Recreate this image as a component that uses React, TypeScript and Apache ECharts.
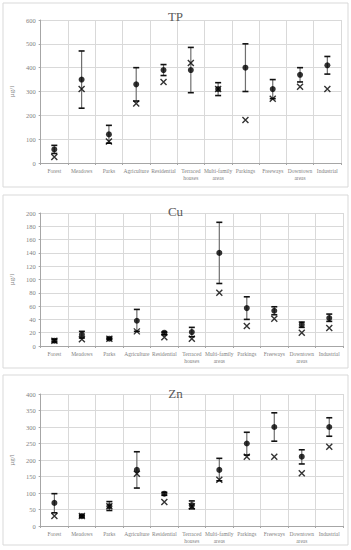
import React, { useEffect, useRef } from "react";
import * as echarts from "echarts";

const categories = [
  "Forest", "Meadows", "Parks", "Agriculture", "Residential", "Terraced\nhouses",
  "Multi-family\nareas", "Parkings", "Freeways", "Downtown\nareas", "Industrial",
];

// TP
const tpMean = [57, 350, 120, 330, 390, 390, 310, 400, 310, 370, 410];
const tpLow = [40, 230, 83, 260, 367, 295, 283, 300, 270, 340, 373];
const tpHigh = [74, 470, 158, 400, 413, 485, 337, 500, 350, 400, 447];
const tpMedian = [25, 310, 90, 250, 340, 420, 310, 180, 270, 320, 310];

// Cu
const cuMean = [8, 17, 11, 38, 20, 21, 140, 57, 53, 32, 42];
const cuLow = [6, 12, 10, 22, 17, 14, 94, 40, 47, 28, 37];
const cuHigh = [10, 22, 12, 55, 21, 28, 186, 74, 59, 36, 48];
const cuMedian = [8, 10, 11, 22, 13, 11, 80, 30, 41, 20, 27];

// Zn
const znMean = [70, 30, 60, 170, 98, 63, 170, 250, 300, 210, 300];
const znLow = [40, 27, 47, 115, 93, 52, 137, 215, 257, 188, 272];
const znHigh = [98, 33, 74, 225, 102, 76, 205, 284, 343, 231, 328];
const znMedian = [30, 30, 60, 158, 73, 60, 140, 210, 210, 160, 240];

const titles = ["TP", "Cu", "Zn"];
const yMax = [600, 200, 400];
const yInterval = [100, 20, 50];

const FONT = "'Liberation Serif', 'DejaVu Serif', serif";

export default function App() {
  const ref = useRef<HTMLDivElement>(null);
  useEffect(() => {
    if (!ref.current) return;
    const chart = echarts.init(ref.current, undefined, { renderer: "svg" });

    const panels = [
      { border: [3, 3, 345, 184], grid: { left: 32, top: 20, width: 309, height: 143 }, titleTop: 5 },
      { border: [3, 195, 345, 173], grid: { left: 32, top: 213, width: 311, height: 133 }, titleTop: 200 },
      { border: [3, 375, 345, 170], grid: { left: 32, top: 394, width: 311, height: 132 }, titleTop: 382 },
    ];
    const means = [tpMean, cuMean, znMean];
    const lows = [tpLow, cuLow, znLow];
    const highs = [tpHigh, cuHigh, znHigh];
    const medians = [tpMedian, cuMedian, znMedian];

    const series: any[] = [];
    panels.forEach((_, k) => {
      series.push({
        type: "custom",
        xAxisIndex: k,
        yAxisIndex: k,
        z: 2,
        encode: { x: 0, y: [1, 2] },
        data: categories.map((_, i) => [i, lows[k][i], highs[k][i]]),
        renderItem: (params: any, api: any) => {
          const x = api.value(0);
          const pLo = api.coord([x, api.value(1)]);
          const pHi = api.coord([x, api.value(2)]);
          const hw = 3;
          return {
            type: "group",
            children: [
              { type: "line", shape: { x1: pLo[0], y1: pLo[1], x2: pHi[0], y2: pHi[1] }, style: { stroke: "#6f6f6f", lineWidth: 1.2 } },
              { type: "line", shape: { x1: pHi[0] - hw, y1: pHi[1], x2: pHi[0] + hw, y2: pHi[1] }, style: { stroke: "#111", lineWidth: 1.6 } },
              { type: "line", shape: { x1: pLo[0] - hw, y1: pLo[1], x2: pLo[0] + hw, y2: pLo[1] }, style: { stroke: "#111", lineWidth: 1.6 } },
            ],
          };
        },
      });
      series.push({
        type: "scatter",
        xAxisIndex: k,
        yAxisIndex: k,
        z: 3,
        symbol: "circle",
        symbolSize: 6,
        itemStyle: { color: "#000" },
        data: means[k],
      });
      series.push({
        type: "scatter",
        xAxisIndex: k,
        yAxisIndex: k,
        z: 4,
        symbol: "path://M0,0L10,10M10,0L0,10",
        symbolSize: 6,
        itemStyle: { color: "none", borderColor: "#000", borderWidth: 1.4 },
        data: medians[k],
      });
    });

    chart.setOption({
      animation: false,
      textStyle: { fontFamily: FONT },
      title: panels.map((p, k) => ({
        text: titles[k],
        left: "center",
        top: p.titleTop,
        textStyle: { fontFamily: FONT, fontSize: 13, fontWeight: "normal", color: "#595959" },
      })),
      graphic: panels.map((p) => ({
        type: "rect",
        shape: { x: p.border[0], y: p.border[1], width: p.border[2], height: p.border[3] },
        style: { fill: "none", stroke: "#d9d9d9", lineWidth: 1 },
        z: -1,
      })),
      grid: panels.map((p) => ({ ...p.grid, containLabel: false })),
      xAxis: panels.map((_, k) => ({
        type: "category",
        gridIndex: k,
        data: categories,
        boundaryGap: true,
        axisLine: { lineStyle: { color: "#a6a6a6", width: 1 } },
        axisTick: { show: true, length: 2, lineStyle: { color: "#a6a6a6" } },
        splitLine: { show: true, lineStyle: { color: "#d9d9d9", width: 1 } },
        axisLabel: {
          interval: 0,
          fontSize: 5.5,
          lineHeight: 7,
          color: "#7f7f7f",
          fontFamily: FONT,
          margin: 4,
        },
      })),
      yAxis: panels.map((_, k) => ({
        type: "value",
        gridIndex: k,
        min: 0,
        max: yMax[k],
        interval: yInterval[k],
        name: "µg/l",
        nameLocation: "middle",
        nameGap: 20,
        nameRotate: 90,
        nameTextStyle: { fontSize: 7, color: "#7f7f7f", fontFamily: FONT },
        axisLine: { show: true, lineStyle: { color: "#a6a6a6", width: 1 } },
        axisTick: { show: true, length: 2, lineStyle: { color: "#a6a6a6" } },
        splitLine: { show: true, lineStyle: { color: "#d9d9d9", width: 1 } },
        axisLabel: { fontSize: 6.5, color: "#7f7f7f", fontFamily: FONT, margin: 5 },
      })),
      series,
    });
    return () => chart.dispose();
  }, []);

  return (
    <div style={{ position: "fixed", left: 0, top: 0, width: 351, height: 550, background: "#fff" }}>
      <div ref={ref} style={{ width: 351, height: 550 }} />
    </div>
  );
}
